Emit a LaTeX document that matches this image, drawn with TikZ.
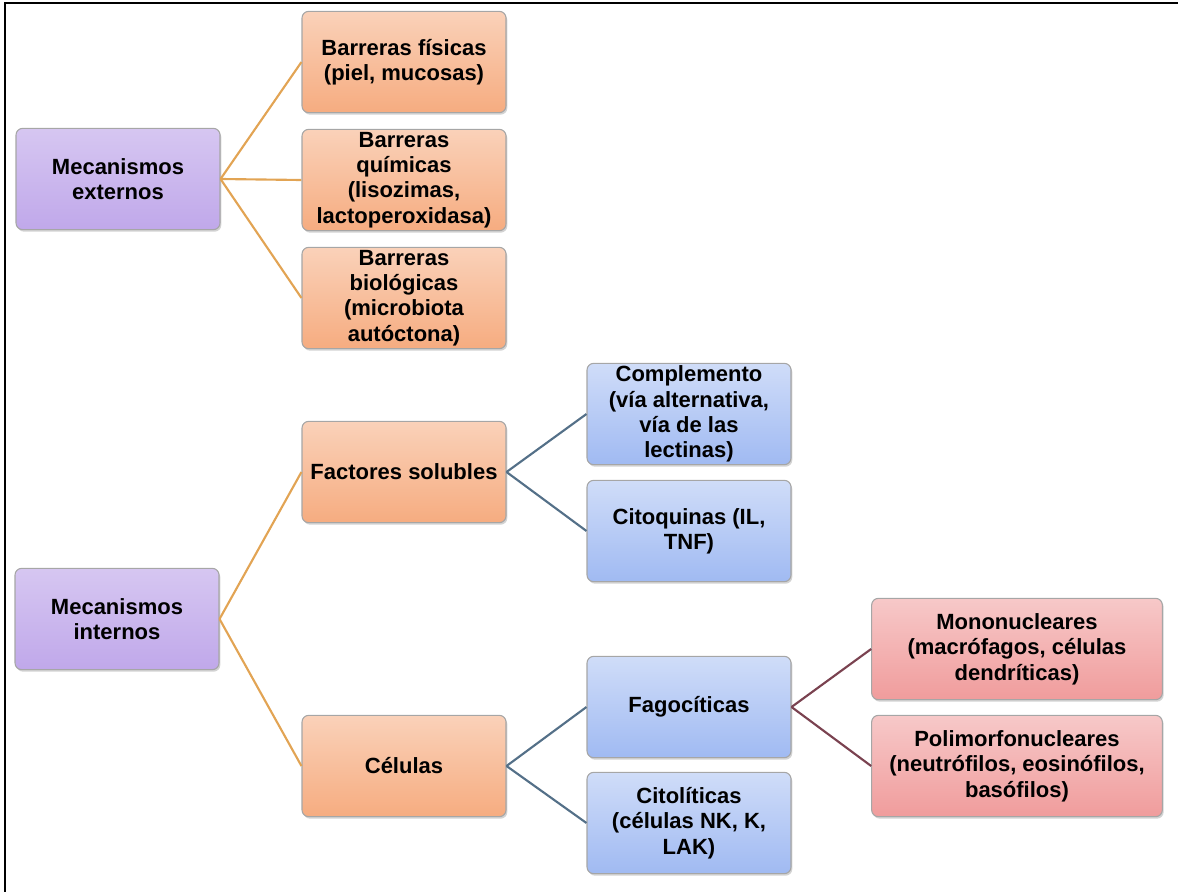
\documentclass[tikz,border=0pt]{standalone}
\usepackage{fontspec}
\setmainfont{Liberation Sans}
\usetikzlibrary{shadows}

\definecolor{lila}{HTML}{C0A8EA}
\definecolor{naranja}{HTML}{F6AC80}
\definecolor{azul}{HTML}{A0BAF2}
\definecolor{rosa}{HTML}{F09C9C}

\begin{document}
\begin{tikzpicture}[x=0.75pt,y=-0.75pt,
    caja/.style={draw=gray!70, rounded corners=5pt, line width=0.8pt,
      align=center, font=\bfseries\fontsize{16.5}{19}\selectfont,
      minimum width=153pt, minimum height=76pt, inner sep=1pt,
      drop shadow={shadow xshift=1pt, shadow yshift=-1.5pt, opacity=0.35}},
    c1/.style={caja, top color=lila!65, bottom color=lila},
    c2/.style={caja, top color=naranja!55, bottom color=naranja},
    c3/.style={caja, top color=azul!50, bottom color=azul},
    c4/.style={caja, top color=rosa!55, bottom color=rosa},
    l2/.style={draw={rgb,255:red,226;green,164;blue,84}, line width=1.6pt},
    l3/.style={draw={rgb,255:red,84;green,112;blue,136}, line width=1.6pt},
    l4/.style={draw={rgb,255:red,122;green,66;blue,80}, line width=1.6pt}]

  \useasboundingbox (0,0) rectangle (1178,892);
  \draw [line width=1.5pt] (5,892) -- (5,3) -- (1178,3);

  \node [c1] (ext) at (118,179) {Mecanismos\\externos};
  \node [c1] (int) at (117,619) {Mecanismos\\internos};

  \node [c2] (fis) at (404,62)  {Barreras físicas\\(piel, mucosas)};
  \node [c2] (qui) at (404,180) {Barreras\\químicas\\(lisozimas,\\lactoperoxidasa)};
  \node [c2] (bio) at (404,298) {Barreras\\biológicas\\(microbiota\\autóctona)};
  \node [c2] (sol) at (404,472) {Factores solubles};
  \node [c2] (cel) at (404,766) {Células};

  \node [c3] (com) at (689,414) {Complemento\\(vía alternativa,\\vía de las\\lectinas)};
  \node [c3] (cit) at (689,531) {Citoquinas (IL,\\TNF)};
  \node [c3] (fag) at (689,707) {Fagocíticas};
  \node [c3] (clt) at (689,823) {Citolíticas\\(células NK, K,\\LAK)};

  \node [c4, minimum width=218pt] (mono) at (1017,649) {Mononucleares\\(macrófagos, células\\dendríticas)};
  \node [c4, minimum width=218pt] (poli) at (1017,766) {Polimorfonucleares\\(neutrófilos, eosinófilos,\\basófilos)};

  \foreach \a/\b in {ext/fis, ext/qui, ext/bio, int/sol, int/cel}
    \draw [l2] (\a.east) -- (\b.west);
  \foreach \a/\b in {sol/com, sol/cit, cel/fag, cel/clt}
    \draw [l3] (\a.east) -- (\b.west);
  \foreach \a/\b in {fag/mono, fag/poli}
    \draw [l4] (\a.east) -- (\b.west);
\end{tikzpicture}
\end{document}
